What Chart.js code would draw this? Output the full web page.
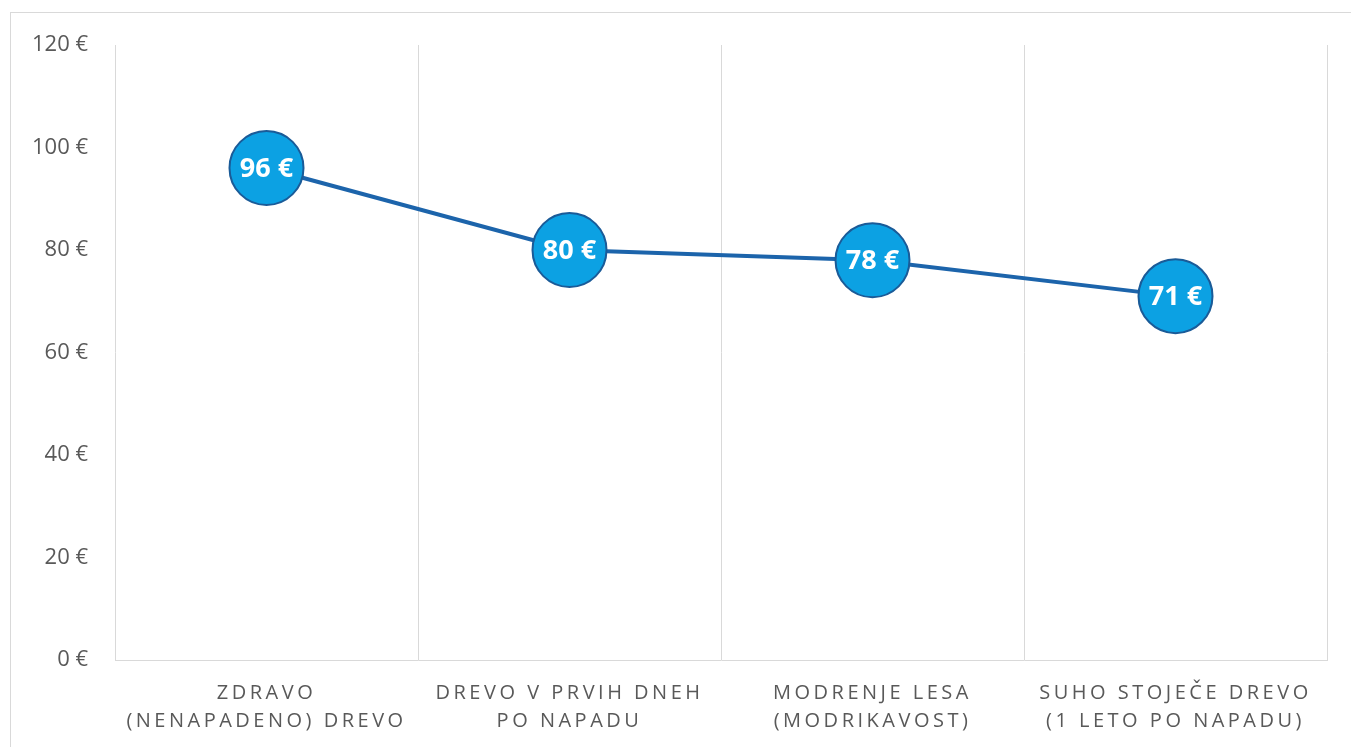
<!DOCTYPE html>
<html>
<head>
<meta charset="utf-8">
<script src="https://cdn.jsdelivr.net/npm/chart.js@4"></script>
<style>
  html, body { margin: 0; padding: 0; background: #fff; overflow: hidden; }
  #frame { position: absolute; left: 10px; top: 12px; width: 1400px; height: 800px; border: 1px solid #d9d9d9; }
  #chartPrice { position: absolute; left: 0; top: 0; }
</style>
</head>
<body>
<div id="frame"></div>
<canvas id="chartPrice" width="1351" height="747"></canvas>
<script>
// categories along the x-axis (two lines each)
var stages = [
  ["ZDRAVO", "(NENAPADENO) DREVO"],
  ["DREVO V PRVIH DNEH", "PO NAPADU"],
  ["MODRENJE LESA", "(MODRIKAVOST)"],
  ["SUHO STOJEČE DREVO", "(1 LETO PO NAPADU)"]
];
// price per m3 in euro
var prices = [96, 80, 78, 71];
// y-axis ticks
var yMin = 0, yMax = 120, yStep = 20;

// white value labels inside the circles
var valueLabels = {
  id: 'valueLabels',
  afterDatasetsDraw: function (chart) {
    var ctx = chart.ctx;
    var meta = chart.getDatasetMeta(0);
    ctx.save();
    ctx.fillStyle = '#ffffff';
    ctx.font = 'bold 27px "Open Sans"';
    ctx.textAlign = 'center';
    ctx.textBaseline = 'middle';
    meta.data.forEach(function (pt, i) {
      ctx.fillText(prices[i] + ' €', pt.x, pt.y + 1);
    });
    ctx.restore();
  }
};

// spaced-out letters on the category labels
var spacedLabels = {
  id: 'spacedLabels',
  beforeDraw: function (chart) {
    var x = chart.scales.x;
    if (x._spaced) return;
    var orig = x.drawLabels;
    x.drawLabels = function (area) {
      this.ctx.save();
      this.ctx.letterSpacing = '3.5px';
      orig.call(this, area);
      this.ctx.restore();
    };
    x._spaced = true;
  }
};

var ctx = document.getElementById("chartPrice");
var chartPrice = new Chart(ctx, {
  type: 'line',
  data: {
    labels: stages,
    datasets: [{
      data: prices,
      borderColor: '#1c64ab',
      borderWidth: 4,
      tension: 0,
      pointRadius: 37,
      pointHoverRadius: 37,
      pointBackgroundColor: '#0ca1e3',
      pointBorderColor: '#1a5b98',
      pointBorderWidth: 2,
      clip: false,
      fill: false
    }]
  },
  options: {
    responsive: false,
    animation: false,
    events: [],
    layout: { autoPadding: false, padding: { top: 45, right: 24, left: 0, bottom: 0 } },
    plugins: {
      legend: { display: false },
      tooltip: { enabled: false }
    },
    scales: {
      x: {
        offset: true,
        grid: { offset: true, color: '#d9d9d9', lineWidth: 1, drawTicks: false },
        border: { color: '#d9d9d9', width: 1 },
        ticks: {
          color: '#595959',
          font: { family: 'Open Sans', size: 20, lineHeight: 1.4 },
          padding: 19,
          maxRotation: 0,
          autoSkip: false
        },
        afterFit: function (scale) {
          scale.height = 87;
          scale.paddingLeft = 0;
          scale.paddingRight = 0;
        }
      },
      y: {
        min: yMin,
        max: yMax,
        grid: { display: false, drawTicks: false },
        border: { display: false },
        ticks: {
          stepSize: yStep,
          color: '#595959',
          font: { family: 'Open Sans', size: 22 },
          padding: 27,
          callback: function (v) { return v + ' €'; }
        },
        afterFit: function (scale) {
          scale.width = 115;
          scale.paddingTop = 0;
          scale.paddingBottom = 0;
        }
      }
    }
  },
  plugins: [valueLabels, spacedLabels]
});
</script>
</body>
</html>
